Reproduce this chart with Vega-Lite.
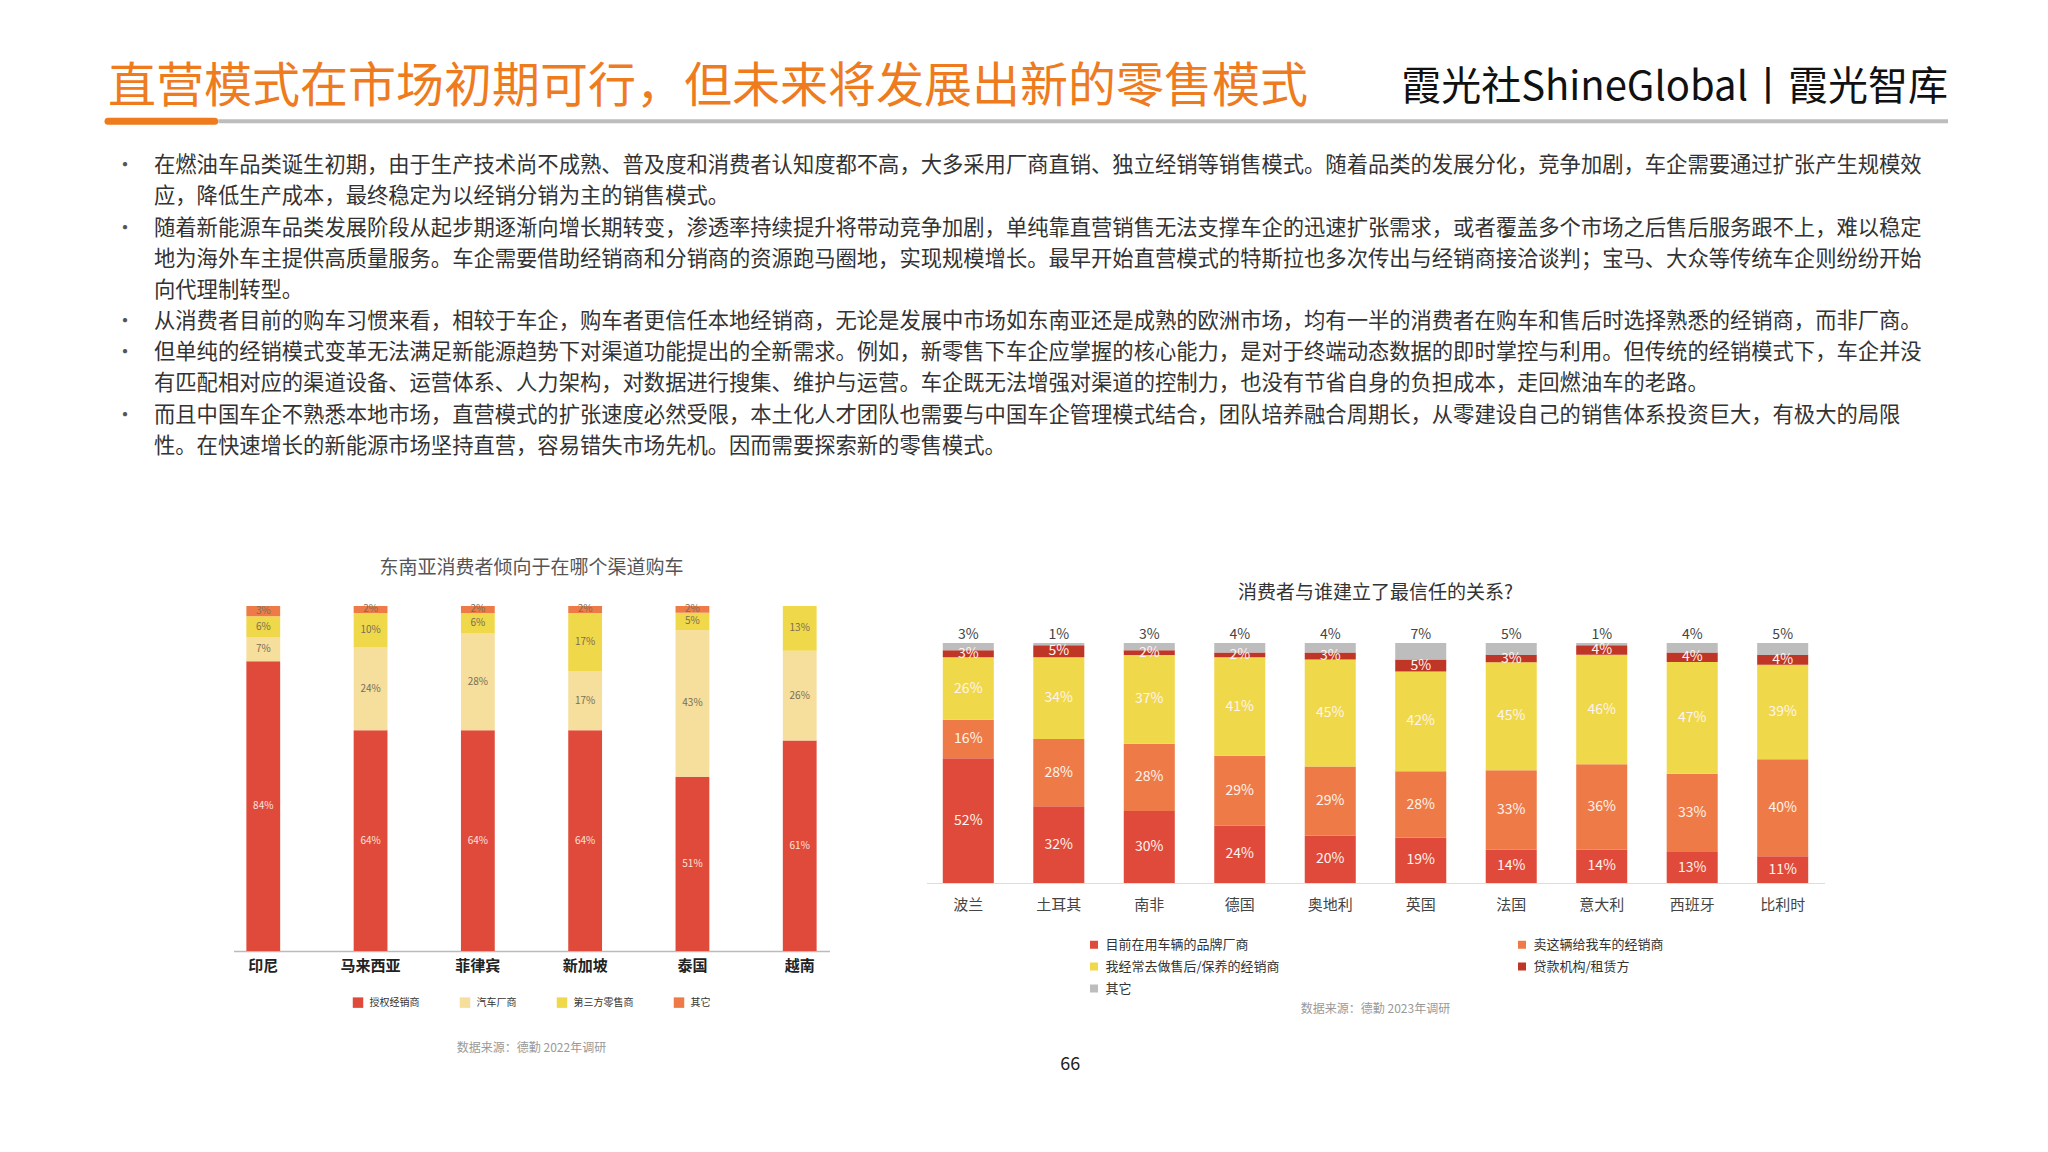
{
  "$schema": "https://vega.github.io/schema/vega-lite/v6.json",
  "background": "white",
  "padding": {"left": 104, "top": 57, "right": 0, "bottom": 0},
  "config": {
    "view": {"stroke": null},
    "font": "Noto Sans CJK SC",
    "legend": {"layout": {"bottom": {"anchor": "middle"}}}
  },
  "title": {"text": "66", "orient": "bottom", "anchor": "middle", "fontSize": 18, "fontWeight": "normal", "color": "#222", "offset": 2, "dx": 43},
  "datasets": {
    "header": [
      {"line": 1, "first": true, "t": "在燃油车品类诞生初期，由于生产技术尚不成熟、普及度和消费者认知度都不高，大多采用厂商直销、独立经销等销售模式。随着品类的发展分化，竞争加剧，车企需要通过扩张产生规模效"},
      {"line": 2, "first": false, "t": "应，降低生产成本，最终稳定为以经销分销为主的销售模式。"},
      {"line": 3, "first": true, "t": "随着新能源车品类发展阶段从起步期逐渐向增长期转变，渗透率持续提升将带动竞争加剧，单纯靠直营销售无法支撑车企的迅速扩张需求，或者覆盖多个市场之后售后服务跟不上，难以稳定"},
      {"line": 4, "first": false, "t": "地为海外车主提供高质量服务。车企需要借助经销商和分销商的资源跑马圈地，实现规模增长。最早开始直营模式的特斯拉也多次传出与经销商接洽谈判；宝马、大众等传统车企则纷纷开始"},
      {"line": 5, "first": false, "t": "向代理制转型。"},
      {"line": 6, "first": true, "t": "从消费者目前的购车习惯来看，相较于车企，购车者更信任本地经销商，无论是发展中市场如东南亚还是成熟的欧洲市场，均有一半的消费者在购车和售后时选择熟悉的经销商，而非厂商。"},
      {"line": 7, "first": true, "t": "但单纯的经销模式变革无法满足新能源趋势下对渠道功能提出的全新需求。例如，新零售下车企应掌握的核心能力，是对于终端动态数据的即时掌控与利用。但传统的经销模式下，车企并没"},
      {"line": 8, "first": false, "t": "有匹配相对应的渠道设备、运营体系、人力架构，对数据进行搜集、维护与运营。车企既无法增强对渠道的控制力，也没有节省自身的负担成本，走回燃油车的老路。"},
      {"line": 9, "first": true, "t": "而且中国车企不熟悉本地市场，直营模式的扩张速度必然受限，本土化人才团队也需要与中国车企管理模式结合，团队培养融合周期长，从零建设自己的销售体系投资巨大，有极大的局限"},
      {"line": 10, "first": false, "t": "性。在快速增长的新能源市场坚持直营，容易错失市场先机。因而需要探索新的零售模式。"}
    ],
    "sea": [
      {"country": "印尼", "cat": "授权经销商", "share": 0.84, "k": 1},
      {"country": "印尼", "cat": "汽车厂商", "share": 0.07, "k": 2},
      {"country": "印尼", "cat": "第三方零售商", "share": 0.06, "k": 3},
      {"country": "印尼", "cat": "其它", "share": 0.03, "k": 4},
      {"country": "马来西亚", "cat": "授权经销商", "share": 0.64, "k": 1},
      {"country": "马来西亚", "cat": "汽车厂商", "share": 0.24, "k": 2},
      {"country": "马来西亚", "cat": "第三方零售商", "share": 0.10, "k": 3},
      {"country": "马来西亚", "cat": "其它", "share": 0.02, "k": 4},
      {"country": "菲律宾", "cat": "授权经销商", "share": 0.64, "k": 1},
      {"country": "菲律宾", "cat": "汽车厂商", "share": 0.28, "k": 2},
      {"country": "菲律宾", "cat": "第三方零售商", "share": 0.06, "k": 3},
      {"country": "菲律宾", "cat": "其它", "share": 0.02, "k": 4},
      {"country": "新加坡", "cat": "授权经销商", "share": 0.64, "k": 1},
      {"country": "新加坡", "cat": "汽车厂商", "share": 0.17, "k": 2},
      {"country": "新加坡", "cat": "第三方零售商", "share": 0.17, "k": 3},
      {"country": "新加坡", "cat": "其它", "share": 0.02, "k": 4},
      {"country": "泰国", "cat": "授权经销商", "share": 0.51, "k": 1},
      {"country": "泰国", "cat": "汽车厂商", "share": 0.43, "k": 2},
      {"country": "泰国", "cat": "第三方零售商", "share": 0.05, "k": 3},
      {"country": "泰国", "cat": "其它", "share": 0.02, "k": 4},
      {"country": "越南", "cat": "授权经销商", "share": 0.61, "k": 1},
      {"country": "越南", "cat": "汽车厂商", "share": 0.26, "k": 2},
      {"country": "越南", "cat": "第三方零售商", "share": 0.13, "k": 3}
    ],
    "eu": [
      {"country": "波兰", "cat": "目前在用车辆的品牌厂商", "share": 0.52, "k": 1},
      {"country": "波兰", "cat": "卖这辆给我车的经销商", "share": 0.16, "k": 2},
      {"country": "波兰", "cat": "我经常去做售后/保养的经销商", "share": 0.26, "k": 3},
      {"country": "波兰", "cat": "贷款机构/租赁方", "share": 0.03, "k": 4},
      {"country": "波兰", "cat": "其它", "share": 0.03, "k": 5},
      {"country": "土耳其", "cat": "目前在用车辆的品牌厂商", "share": 0.32, "k": 1},
      {"country": "土耳其", "cat": "卖这辆给我车的经销商", "share": 0.28, "k": 2},
      {"country": "土耳其", "cat": "我经常去做售后/保养的经销商", "share": 0.34, "k": 3},
      {"country": "土耳其", "cat": "贷款机构/租赁方", "share": 0.05, "k": 4},
      {"country": "土耳其", "cat": "其它", "share": 0.01, "k": 5},
      {"country": "南非", "cat": "目前在用车辆的品牌厂商", "share": 0.30, "k": 1},
      {"country": "南非", "cat": "卖这辆给我车的经销商", "share": 0.28, "k": 2},
      {"country": "南非", "cat": "我经常去做售后/保养的经销商", "share": 0.37, "k": 3},
      {"country": "南非", "cat": "贷款机构/租赁方", "share": 0.02, "k": 4},
      {"country": "南非", "cat": "其它", "share": 0.03, "k": 5},
      {"country": "德国", "cat": "目前在用车辆的品牌厂商", "share": 0.24, "k": 1},
      {"country": "德国", "cat": "卖这辆给我车的经销商", "share": 0.29, "k": 2},
      {"country": "德国", "cat": "我经常去做售后/保养的经销商", "share": 0.41, "k": 3},
      {"country": "德国", "cat": "贷款机构/租赁方", "share": 0.02, "k": 4},
      {"country": "德国", "cat": "其它", "share": 0.04, "k": 5},
      {"country": "奥地利", "cat": "目前在用车辆的品牌厂商", "share": 0.20, "k": 1},
      {"country": "奥地利", "cat": "卖这辆给我车的经销商", "share": 0.29, "k": 2},
      {"country": "奥地利", "cat": "我经常去做售后/保养的经销商", "share": 0.45, "k": 3},
      {"country": "奥地利", "cat": "贷款机构/租赁方", "share": 0.03, "k": 4},
      {"country": "奥地利", "cat": "其它", "share": 0.04, "k": 5},
      {"country": "英国", "cat": "目前在用车辆的品牌厂商", "share": 0.19, "k": 1},
      {"country": "英国", "cat": "卖这辆给我车的经销商", "share": 0.28, "k": 2},
      {"country": "英国", "cat": "我经常去做售后/保养的经销商", "share": 0.42, "k": 3},
      {"country": "英国", "cat": "贷款机构/租赁方", "share": 0.05, "k": 4},
      {"country": "英国", "cat": "其它", "share": 0.07, "k": 5},
      {"country": "法国", "cat": "目前在用车辆的品牌厂商", "share": 0.14, "k": 1},
      {"country": "法国", "cat": "卖这辆给我车的经销商", "share": 0.33, "k": 2},
      {"country": "法国", "cat": "我经常去做售后/保养的经销商", "share": 0.45, "k": 3},
      {"country": "法国", "cat": "贷款机构/租赁方", "share": 0.03, "k": 4},
      {"country": "法国", "cat": "其它", "share": 0.05, "k": 5},
      {"country": "意大利", "cat": "目前在用车辆的品牌厂商", "share": 0.14, "k": 1},
      {"country": "意大利", "cat": "卖这辆给我车的经销商", "share": 0.36, "k": 2},
      {"country": "意大利", "cat": "我经常去做售后/保养的经销商", "share": 0.46, "k": 3},
      {"country": "意大利", "cat": "贷款机构/租赁方", "share": 0.04, "k": 4},
      {"country": "意大利", "cat": "其它", "share": 0.01, "k": 5},
      {"country": "西班牙", "cat": "目前在用车辆的品牌厂商", "share": 0.13, "k": 1},
      {"country": "西班牙", "cat": "卖这辆给我车的经销商", "share": 0.33, "k": 2},
      {"country": "西班牙", "cat": "我经常去做售后/保养的经销商", "share": 0.47, "k": 3},
      {"country": "西班牙", "cat": "贷款机构/租赁方", "share": 0.04, "k": 4},
      {"country": "西班牙", "cat": "其它", "share": 0.04, "k": 5},
      {"country": "比利时", "cat": "目前在用车辆的品牌厂商", "share": 0.11, "k": 1},
      {"country": "比利时", "cat": "卖这辆给我车的经销商", "share": 0.40, "k": 2},
      {"country": "比利时", "cat": "我经常去做售后/保养的经销商", "share": 0.39, "k": 3},
      {"country": "比利时", "cat": "贷款机构/租赁方", "share": 0.04, "k": 4},
      {"country": "比利时", "cat": "其它", "share": 0.05, "k": 5}
    ]
  },
  "vconcat": [
    {
      "width": 1840,
      "height": 421,
      "layer": [
        {
          "data": {"values": [{"t": "直营模式在市场初期可行，但未来将发展出新的零售模式"}]},
          "mark": {"type": "text", "align": "left", "baseline": "middle", "fontSize": 48, "color": "#EE7B1E"},
          "encoding": {
            "x": {"datum": 0, "type": "quantitative", "scale": {"domain": [0, 100], "nice": false, "zero": false}, "axis": null},
            "y": {"datum": -1.5, "type": "quantitative", "scale": {"domain": [-2.5, 11], "reverse": true, "nice": false, "zero": false}, "axis": null},
            "text": {"field": "t"}
          }
        },
        {
          "data": {"values": [{"t": "霞光社ShineGlobal丨霞光智库"}]},
          "mark": {"type": "text", "align": "right", "baseline": "middle", "fontSize": 40, "color": "#111111"},
          "encoding": {
            "x": {"datum": 100, "type": "quantitative"},
            "y": {"datum": -1.5, "type": "quantitative"},
            "text": {"field": "t"}
          }
        },
        {
          "data": {"values": [{"seg": "line"}]},
          "mark": {"type": "rule", "color": "#BDBDBD", "strokeWidth": 4},
          "encoding": {
            "x": {"datum": 6, "type": "quantitative"},
            "x2": {"datum": 100},
            "y": {"datum": -0.44, "type": "quantitative"}
          }
        },
        {
          "data": {"values": [{"seg": "accent"}]},
          "mark": {"type": "rule", "color": "#EE7B1E", "strokeWidth": 7, "strokeCap": "round"},
          "encoding": {
            "x": {"datum": 0, "type": "quantitative"},
            "x2": {"datum": 5.8},
            "y": {"datum": -0.44, "type": "quantitative"}
          }
        },
        {
          "data": {"name": "header"},
          "transform": [{"filter": "datum.first"}],
          "mark": {"type": "text", "align": "center", "baseline": "middle", "fontSize": 20, "color": "#555555"},
          "encoding": {
            "x": {"datum": 0.92, "type": "quantitative"},
            "y": {"field": "line", "type": "quantitative"},
            "text": {"value": "•"}
          }
        },
        {
          "data": {"name": "header"},
          "mark": {"type": "text", "align": "left", "baseline": "middle", "fontSize": 21.3, "color": "#333333"},
          "encoding": {
            "x": {"datum": 2.5, "type": "quantitative"},
            "y": {"field": "line", "type": "quantitative"},
            "text": {"field": "t"}
          }
        }
      ]
    },
    {
      "hconcat": [
        {
          "width": 596,
          "height": 345,
          "title": {"text": "东南亚消费者倾向于在哪个渠道购车", "fontSize": 19, "fontWeight": "normal", "color": "#555555", "offset": 26},
          "data": {"name": "sea"},
          "encoding": {
            "x": {
              "field": "country", "type": "nominal",
              "sort": ["印尼", "马来西亚", "菲律宾", "新加坡", "泰国", "越南"],
              "scale": {"paddingInner": 0.685, "paddingOuter": 0.12},
              "axis": {"title": null, "labelAngle": 0, "labelFontSize": 15, "labelColor": "#222222", "labelFontWeight": "bold", "domainColor": "#BBBBBB", "domainWidth": 1.5, "ticks": false, "labelPadding": 7}
            },
            "y": {"field": "share", "type": "quantitative", "stack": "normalize", "axis": null},
            "order": {"field": "k", "type": "quantitative"}
          },
          "layer": [
            {
              "mark": {"type": "bar"},
              "encoding": {
                "color": {
                  "field": "cat", "type": "nominal",
                  "scale": {"domain": ["授权经销商", "汽车厂商", "第三方零售商", "其它"], "range": ["#E04A3A", "#F6DE9C", "#F0D84B", "#EE7B47"]},
                  "legend": {"orient": "bottom", "direction": "horizontal", "title": "数据来源：德勤 2022年调研", "titleOrient": "bottom", "titleAnchor": "middle", "titleFontSize": 12, "titleFontWeight": "normal", "titleColor": "#999999", "titlePadding": 35, "labelFontSize": 10, "labelColor": "#333333", "symbolType": "square", "symbolSize": 110, "symbolStrokeWidth": 0, "columnPadding": 40, "labelOffset": 6, "offset": 24}
                }
              }
            },
            {
              "mark": {"type": "text", "fontSize": 10, "baseline": "middle"},
              "encoding": {
                "y": {"field": "share", "type": "quantitative", "stack": "normalize", "bandPosition": 0.5},
                "detail": {"field": "cat", "type": "nominal"},
                "text": {"field": "share", "type": "quantitative", "format": ".0%"},
                "color": {"condition": {"test": "datum.cat === '授权经销商'", "value": "#FBE3DD"}, "value": "#7A6E55"}
              }
            }
          ]
        },
        {
          "width": 898,
          "height": 277,
          "title": {"text": "消费者与谁建立了最信任的关系?", "fontSize": 19, "fontWeight": "normal", "color": "#333333", "offset": 3},
          "data": {"name": "eu"},
          "encoding": {
            "x": {
              "field": "country", "type": "nominal",
              "sort": ["波兰", "土耳其", "南非", "德国", "奥地利", "英国", "法国", "意大利", "西班牙", "比利时"],
              "scale": {"paddingInner": 0.436, "paddingOuter": 0.18},
              "axis": {"title": null, "labelAngle": 0, "labelFontSize": 15, "labelColor": "#444444", "domainColor": "#DDDDDD", "domainWidth": 1, "ticks": false, "labelPadding": 14}
            },
            "y": {"field": "share", "type": "quantitative", "stack": "normalize", "scale": {"domain": [0, 1.154], "nice": false}, "axis": null},
            "order": {"field": "k", "type": "quantitative"}
          },
          "layer": [
            {
              "mark": {"type": "bar"},
              "encoding": {
                "color": {
                  "field": "cat", "type": "nominal",
                  "scale": {"domain": ["目前在用车辆的品牌厂商", "卖这辆给我车的经销商", "我经常去做售后/保养的经销商", "贷款机构/租赁方", "其它"], "range": ["#E04A3A", "#EE7B47", "#F0D84B", "#BF3526", "#BDBDBD"]},
                  "legend": {"orient": "bottom", "columns": 2, "title": "数据来源：德勤 2023年调研", "titleOrient": "bottom", "titleAnchor": "middle", "titleFontSize": 12, "titleFontWeight": "normal", "titleColor": "#999999", "titlePadding": 8, "labelFontSize": 13, "labelColor": "#333333", "labelLimit": 400, "symbolType": "square", "symbolSize": 64, "symbolStrokeWidth": 0, "columnPadding": 235, "rowPadding": 8, "labelOffset": 5, "offset": 26}
                }
              }
            },
            {
              "mark": {"type": "text", "fontSize": 14, "baseline": "middle", "color": "#FFF4EE"},
              "encoding": {
                "y": {"field": "share", "type": "quantitative", "stack": "normalize", "bandPosition": 0.5},
                "detail": {"field": "cat", "type": "nominal"},
                "text": {"condition": {"test": "datum.cat === '其它'", "value": ""}, "field": "share", "type": "quantitative", "format": ".0%"}
              }
            },
            {
              "mark": {"type": "text", "fontSize": 14, "baseline": "alphabetic", "dy": -4, "color": "#444444"},
              "encoding": {
                "y": {"field": "share", "type": "quantitative", "stack": "normalize"},
                "detail": {"field": "cat", "type": "nominal"},
                "text": {"condition": {"test": "datum.cat !== '其它'", "value": ""}, "field": "share", "type": "quantitative", "format": ".0%"}
              }
            }
          ]
        }
      ],
      "spacing": 97,
      "resolve": {"scale": {"color": "independent"}, "legend": {"color": "independent"}}
    }
  ],
  "spacing": 81,
  "center": true
}
